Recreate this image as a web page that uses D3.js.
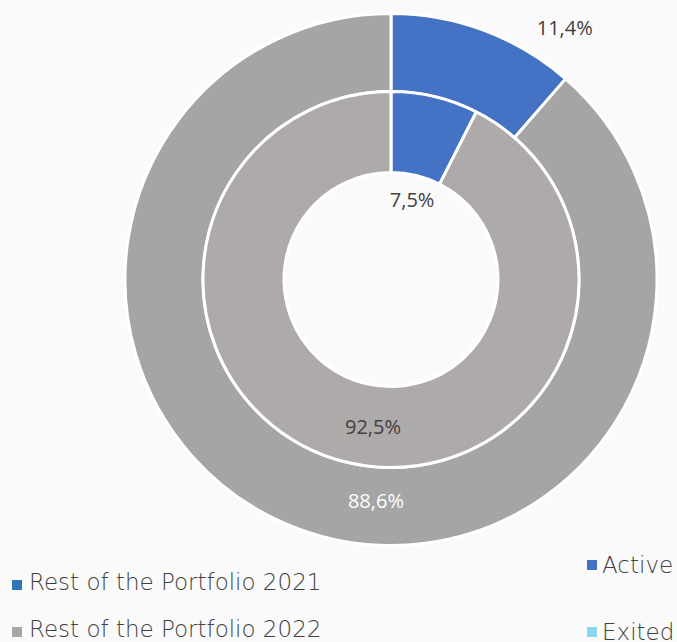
<!DOCTYPE html>
<html>
<head>
<meta charset="utf-8">
<script src="https://cdn.jsdelivr.net/npm/d3@7"></script>
<style>
  html, body { margin: 0; padding: 0; background: #fafafa; }
  svg { display: block; }
</style>
</head>
<body>
<svg id="chart" width="677" height="642"></svg>
<script>
// Portfolio share, two years as concentric rings (outer = 2022, inner = 2021)
const segments = ["Active", "Rest"];
const outerValues = [11.4, 88.6];
const innerValues = [7.5, 92.5];
const outerLabels = ["11,4%", "88,6%"];
const innerLabels = ["7,5%", "92,5%"];
const legendLeft = ["Rest of the Portfolio 2021", "Rest of the Portfolio 2022"];
const legendRight = ["Active", "Exited"];

const W = 677, H = 642;
const cx = 391, cy = 279.5;
const rHole = 107, rSplit = 188, rOuter = 266;

const svg = d3.select("#chart");

// faint backdrop
svg.append("rect").attr("width", W).attr("height", H).attr("fill", "#fafafa");

const pie = d3.pie().sort(null).value(d => d);
const g = svg.append("g").attr("transform", `translate(${cx},${cy})`);

const outerArc = d3.arc().innerRadius(rSplit).outerRadius(rOuter);
const innerArc = d3.arc().innerRadius(rHole).outerRadius(rSplit);

const outerColors = d3.scaleOrdinal().domain(segments).range(["#4472c4", "#a5a5a5"]);
const innerColors = d3.scaleOrdinal().domain(segments).range(["#4472c4", "#aeaaaa"]);

g.selectAll("path.outer").data(pie(outerValues)).join("path")
  .attr("class", "outer")
  .attr("d", outerArc)
  .attr("fill", (d, i) => outerColors(segments[i]))
  .attr("stroke", "#ffffff").attr("stroke-width", 3).attr("stroke-linejoin", "round");

g.selectAll("path.inner").data(pie(innerValues)).join("path")
  .attr("class", "inner")
  .attr("d", innerArc)
  .attr("fill", (d, i) => innerColors(segments[i]))
  .attr("stroke", "#ffffff").attr("stroke-width", 3).attr("stroke-linejoin", "round");

// data labels: polar placement (angle in degrees from 12 o'clock, radius)
const polar = (deg, r) => [r * Math.sin(deg * Math.PI / 180), -r * Math.cos(deg * Math.PI / 180)];
const labelSpots = [
  { text: outerLabels[0], pos: polar(34.6, 306), color: "#404040" },
  { text: outerLabels[1], pos: polar(183.9, 222), color: "#ffffff" },
  { text: innerLabels[0], pos: polar(14.7, 83), color: "#404040" },
  { text: innerLabels[1], pos: polar(187, 148), color: "#404040" }
];
g.selectAll("text.lbl").data(labelSpots).join("text")
  .attr("class", "lbl")
  .attr("x", d => d.pos[0]).attr("y", d => d.pos[1])
  .attr("text-anchor", "middle").attr("dominant-baseline", "central")
  .attr("font-family", "'Open Sans', sans-serif").attr("font-size", 20)
  .attr("fill", d => d.color)
  .text(d => d.text);

// legends
const legFont = "'DejaVu Sans', sans-serif";
const leftColors = ["#2e75b6", "#a5a5a5"];
const lg = svg.append("g");
legendLeft.forEach((t, i) => {
  const y = 582 + i * 47;
  lg.append("rect").attr("x", 12).attr("y", y - 2).attr("width", 10).attr("height", 10).attr("fill", leftColors[i]);
  lg.append("text").attr("x", 29).attr("y", y + 8)
    .attr("font-family", legFont).attr("font-weight", 200).attr("font-size", 23)
    .attr("fill", "#404040").text(t);
});
const rightColors = ["#4472c4", "#8ed6ee"];
legendRight.forEach((t, i) => {
  const y = 560 + i * 67;
  lg.append("rect").attr("x", 587).attr("y", y).attr("width", 10).attr("height", 10).attr("fill", rightColors[i]);
  lg.append("text").attr("x", 602).attr("y", y + 13)
    .attr("font-family", legFont).attr("font-weight", 200).attr("font-size", 23)
    .attr("fill", "#404040").text(t);
});
</script>
</body>
</html>
